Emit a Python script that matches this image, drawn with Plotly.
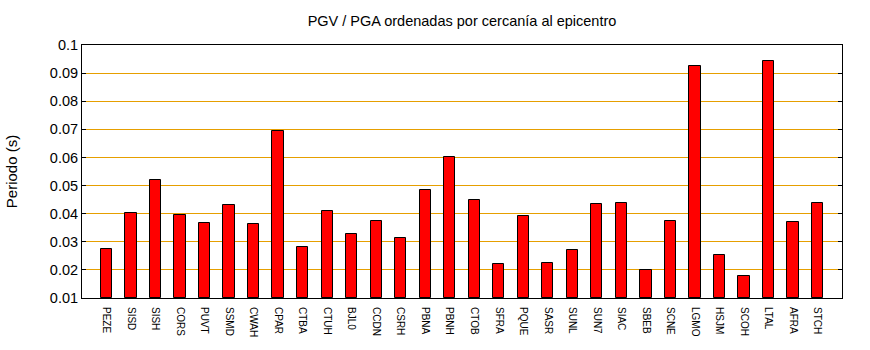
import plotly.graph_objects as go

stations = ["PEZE", "SISD", "SISH", "CORS", "PUVT", "SSMD", "CWAH", "CPAR", "CTBA", "CTUH",
            "BJL0", "CCDN", "CSRH", "PBNA", "PBNH", "CTOB", "SFRA", "PQUE", "SASR", "SUNL",
            "SUN7", "SIAC", "SBEB", "SCNE", "LGMO", "HSJM", "SCOH", "LTAL", "AFRA", "STCH"]
periodo = [0.0273, 0.0401, 0.0519, 0.0394, 0.0366, 0.0430, 0.0362, 0.0693, 0.0280, 0.0408,
           0.0327, 0.0373, 0.0312, 0.0483, 0.0600, 0.0448, 0.0220, 0.0391, 0.0223, 0.0270,
           0.0433, 0.0437, 0.0199, 0.0373, 0.0924, 0.0252, 0.0177, 0.0942, 0.0369, 0.0437]
y_ticks = [0.01, 0.02, 0.03, 0.04, 0.05, 0.06, 0.07, 0.08, 0.09, 0.1]
y_tick_text = ["0.01", "0.02", "0.03", "0.04", "0.05", "0.06", "0.07", "0.08", "0.09", "0.1"]

xpos = list(range(len(stations)))

fig = go.Figure()
fig.add_trace(go.Bar(
    x=xpos, y=[v - 0.01 for v in periodo], base=0.01,
    width=0.46,
    marker=dict(color="#ff0000", line=dict(color="black", width=1)),
    hoverinfo="skip",
))

fig.update_layout(
    width=870, height=350,
    margin=dict(l=82, r=28, t=45, b=52),
    paper_bgcolor="white", plot_bgcolor="white",
    font=dict(family="Liberation Sans", color="black"),
    title=dict(text="PGV / PGA ordenadas por cercanía al epicentro",
               x=(82 + 842) / 2 / 870, xanchor="center", y=1 - 21 / 350, yanchor="middle",
               font=dict(size=14.5)),
    showlegend=False,
    bargap=0,
)
fig.update_xaxes(
    range=[-1, len(stations)],
    tickmode="array", tickvals=xpos, ticktext=stations,
    tickangle=90, tickfont=dict(size=10),
    showgrid=False, zeroline=False,
    showline=True, linecolor="black", linewidth=1, mirror=True,
    ticks="", ticklabelstandoff=6,
)
fig.update_yaxes(
    range=[0.01, 0.1],
    tickmode="array", tickvals=y_ticks, ticktext=y_tick_text,
    tickfont=dict(size=14.5),
    showgrid=True, gridcolor="#e69f00", gridwidth=1,
    zeroline=False,
    showline=True, linecolor="black", linewidth=1, mirror="ticks",
    ticks="inside", ticklen=4, tickcolor="black",
    title=dict(text="Periodo (s)", font=dict(size=15), standoff=28),
)

fig.write_html("out.html")
